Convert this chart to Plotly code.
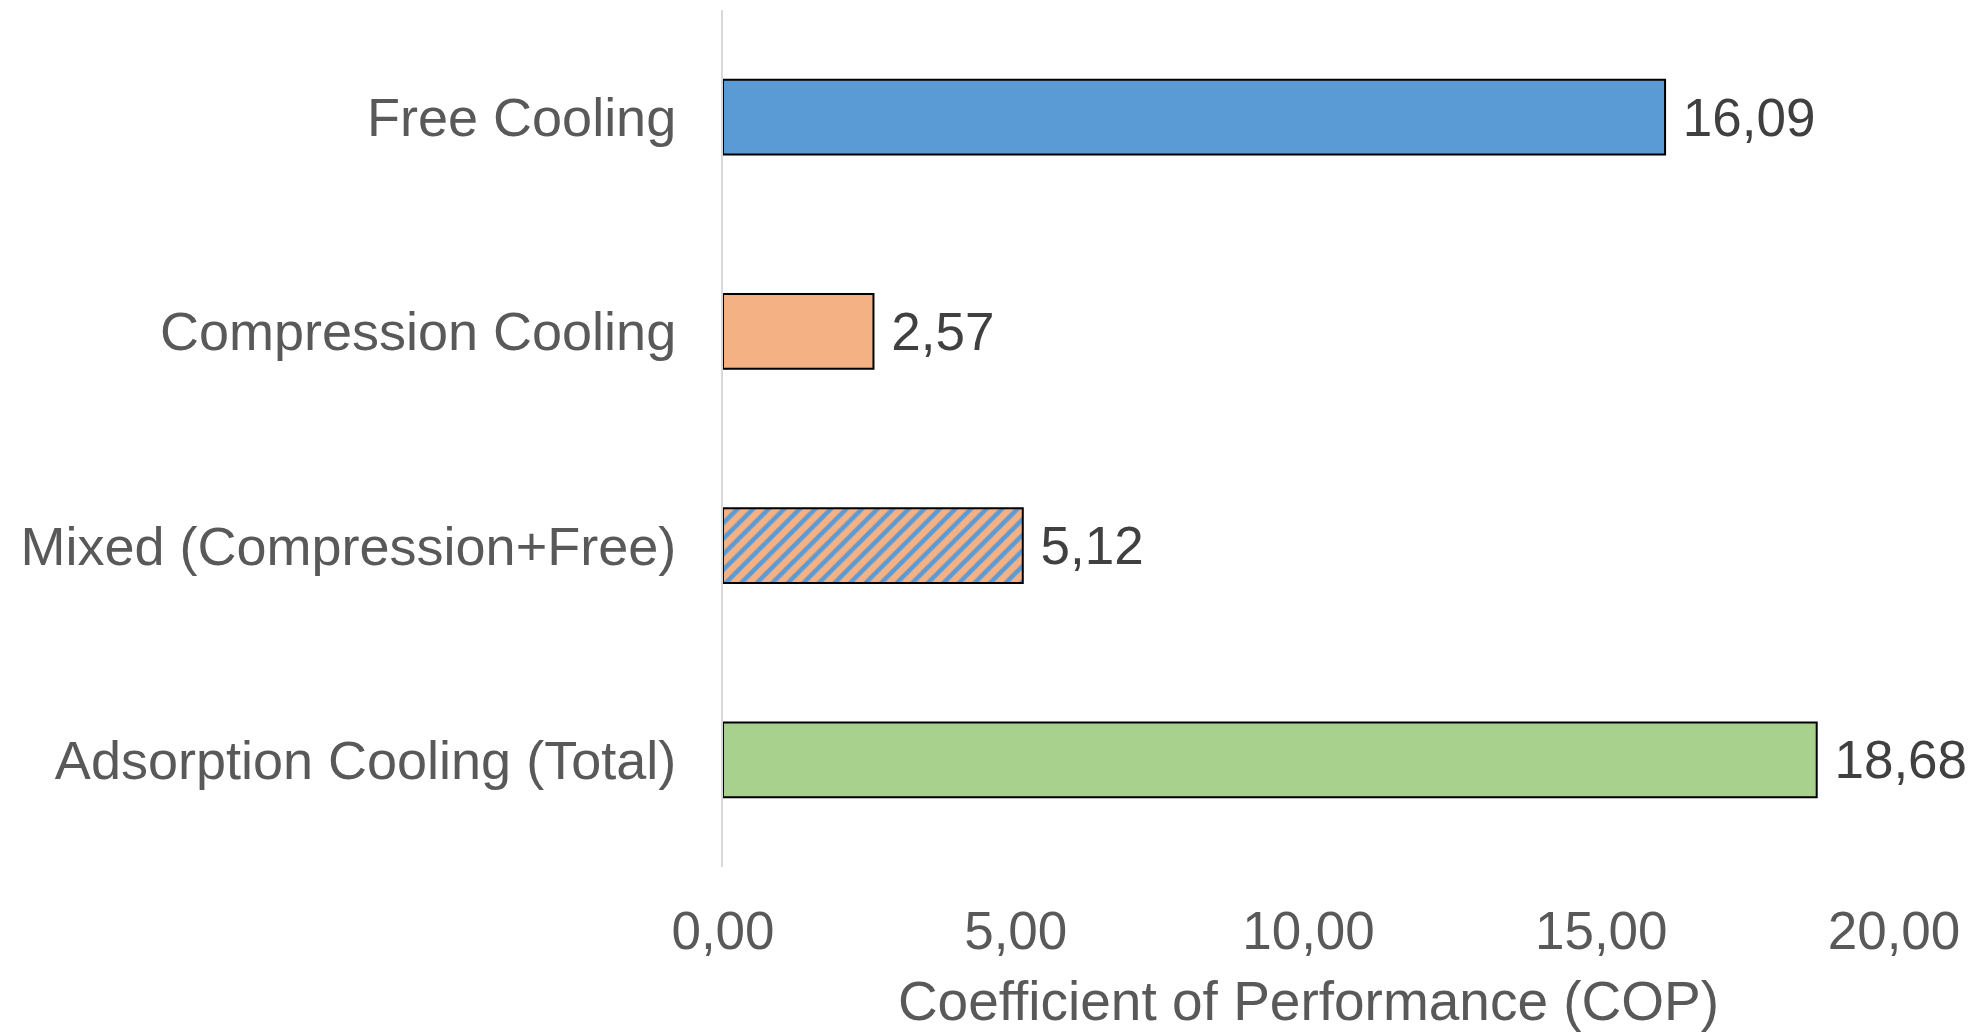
import plotly.graph_objects as go

categories = ["Free Cooling", "Compression Cooling", "Mixed (Compression+Free)", "Adsorption Cooling (Total)"]
values = [16.09, 2.57, 5.12, 18.68]
value_labels = ["16,09", "2,57", "5,12", "18,68"]
x_tickvals = [0, 5, 10, 15, 20]
x_ticktext = ["0,00", "5,00", "10,00", "15,00", "20,00"]

colors = ["#5B9BD5", "#F4B183", "#F4B183", "#A9D18E"]
hatched = [False, False, True, False]

FONT = "Liberation Sans, Arial, sans-serif"

fig = go.Figure()
for i, cat in enumerate(categories):
    pattern = dict(shape="/", fgcolor="#5B9BD5", bgcolor="#F4B183", fgopacity=1,
                   size=11, solidity=0.4, fillmode="replace") if hatched[i] else dict(shape="")
    fig.add_trace(go.Bar(
        y=[cat],
        x=[values[i]],
        orientation="h",
        width=0.35,
        text=["\u00a0" + value_labels[i]],
        textposition="outside",
        textfont=dict(family=FONT, size=53, color="#404040"),
        cliponaxis=False,
        marker=dict(color=colors[i], line=dict(color="#000000", width=2), pattern=pattern),
        showlegend=False,
    ))

fig.update_layout(
    width=1974, height=1024,
    margin=dict(l=715, r=88, t=2, b=165),
    paper_bgcolor="white", plot_bgcolor="white",
    font=dict(family=FONT, size=54, color="#595959"),
    barmode="overlay",
)
fig.update_xaxes(
    range=[0, 20], tickvals=x_tickvals, ticktext=x_ticktext,
    showgrid=False, zeroline=False, showline=False, automargin=False,
    tickfont=dict(family=FONT, size=53, color="#595959"),
    ticklabelstandoff=28,
    title=dict(text="Coefficient of Performance (COP)",
               font=dict(family=FONT, size=55, color="#595959"), standoff=22),
)
fig.update_yaxes(
    categoryorder="array", categoryarray=categories,
    autorange="reversed", showgrid=False, zeroline=False, automargin=False,
    showline=True, linecolor="#D9D9D9", linewidth=2,
    tickfont=dict(family=FONT, size=54, color="#595959"),
    ticklabelstandoff=34,
)

fig.write_html("out.html")
